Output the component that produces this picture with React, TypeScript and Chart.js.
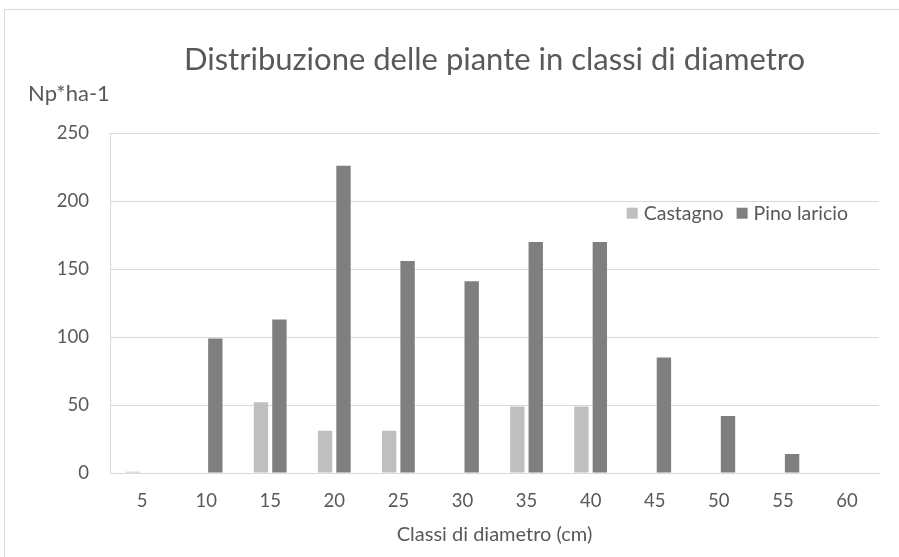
import React, { useEffect, useRef } from "react";
import { Chart, registerables } from "chart.js";

Chart.register(...registerables);

const categories = ["5", "10", "15", "20", "25", "30", "35", "40", "45", "50", "55", "60"];
const castagno = [1, 0, 52, 31, 31, 0, 49, 49, 0, 0, 0, 0];
const pinoLaricio = [0, 99, 113, 226, 156, 141, 170, 170, 85, 42, 14, 0];
const seriesNames = ["Castagno", "Pino laricio"];
const seriesColors = ["#bfbfbf", "#7f7f7f"];
const yMax = 250;
const yStep = 50;
const chartTitle = "Distribuzione delle piante in classi di diametro";
const yTitle = "Np*ha-1";
const xTitle = "Classi di diametro (cm)";

const FONT = "Lato, 'Noto Sans', sans-serif";
const TEXT = "#595959";
const GRID = "#d9d9d9";

const extrasPlugin = {
  id: "extras",
  beforeDraw(chart: any) {
    const ctx = chart.ctx;
    ctx.save();
    ctx.strokeStyle = GRID;
    ctx.lineWidth = 1;
    ctx.beginPath();
    ctx.moveTo(4.5, chart.height + 5);
    ctx.lineTo(4.5, 9.5);
    ctx.lineTo(chart.width + 5, 9.5);
    ctx.stroke();
    ctx.restore();
  },
  afterDraw(chart: any) {
    const ctx = chart.ctx;
    const area = chart.chartArea;
    ctx.save();
    // y-axis caption
    ctx.fillStyle = TEXT;
    ctx.font = `22px ${FONT}`;
    ctx.textBaseline = "middle";
    ctx.textAlign = "left";
    ctx.fillText(yTitle, area.left - 82, area.top - 39);
    // legend
    ctx.font = `19.5px ${FONT}`;
    const box = 11;
    const gapBox = 6;
    const gapItem = 13;
    const items = chart.data.datasets.map((d: any) => ({
      label: d.label,
      color: d.backgroundColor,
      w: ctx.measureText(d.label).width,
    }));
    let total = 0;
    items.forEach((it: any, i: number) => {
      total += box + gapBox + it.w + (i < items.length - 1 ? gapItem : 0);
    });
    let x = area.right - 31 - total;
    const yc = area.top + 80;
    items.forEach((it: any) => {
      ctx.fillStyle = it.color;
      ctx.fillRect(x, yc - box / 2, box, box);
      x += box + gapBox;
      ctx.fillStyle = TEXT;
      ctx.fillText(it.label, x, yc + 1);
      x += it.w + gapItem;
    });
    ctx.restore();
  },
};

export default function App() {
  const ref = useRef<HTMLCanvasElement | null>(null);
  useEffect(() => {
    document.body.style.margin = "0";
    const canvas = ref.current;
    if (!canvas) return;
    const chart = new Chart(canvas, {
      type: "bar",
      data: {
        labels: categories,
        datasets: [
          { label: seriesNames[0], data: castagno, backgroundColor: seriesColors[0] },
          { label: seriesNames[1], data: pinoLaricio, backgroundColor: seriesColors[1] },
        ],
      },
      options: {
        animation: false,
        responsive: false,
        maintainAspectRatio: false,
        layout: { padding: { left: 0, right: 20, top: 0, bottom: 0 } },
        datasets: {
          bar: { categoryPercentage: 0.575, barPercentage: 0.78 },
        },
        plugins: {
          legend: { display: false },
          tooltip: { enabled: false },
          title: {
            display: true,
            text: chartTitle,
            fullSize: false,
            color: TEXT,
            font: { family: FONT, size: 31, weight: "normal" },
            padding: { top: 41, bottom: 55 },
          },
        },
        scales: {
          x: {
            grid: { display: false, drawTicks: false },
            border: { display: true, color: GRID },
            ticks: { color: TEXT, font: { family: FONT, size: 18.5 }, padding: 17, maxRotation: 0 },
            title: {
              display: true,
              text: xTitle,
              color: TEXT,
              font: { family: FONT, size: 20 },
              padding: { top: 0, bottom: 10 },
            },
            afterFit: (s: any) => {
              s.height = 84;
            },
          },
          y: {
            min: 0,
            max: yMax,
            grid: { color: GRID, drawTicks: false },
            border: { display: true, color: GRID },
            ticks: { stepSize: yStep, color: TEXT, font: { family: FONT, size: 18.5 }, padding: 21 },
            afterFit: (s: any) => {
              s.width = 110;
            },
          },
        },
      },
      plugins: [extrasPlugin],
    });
    return () => chart.destroy();
  }, []);
  return (
    <div style={{ width: 899, height: 557, background: "#fff" }}>
      <canvas ref={ref} width={899} height={557} />
    </div>
  );
}
